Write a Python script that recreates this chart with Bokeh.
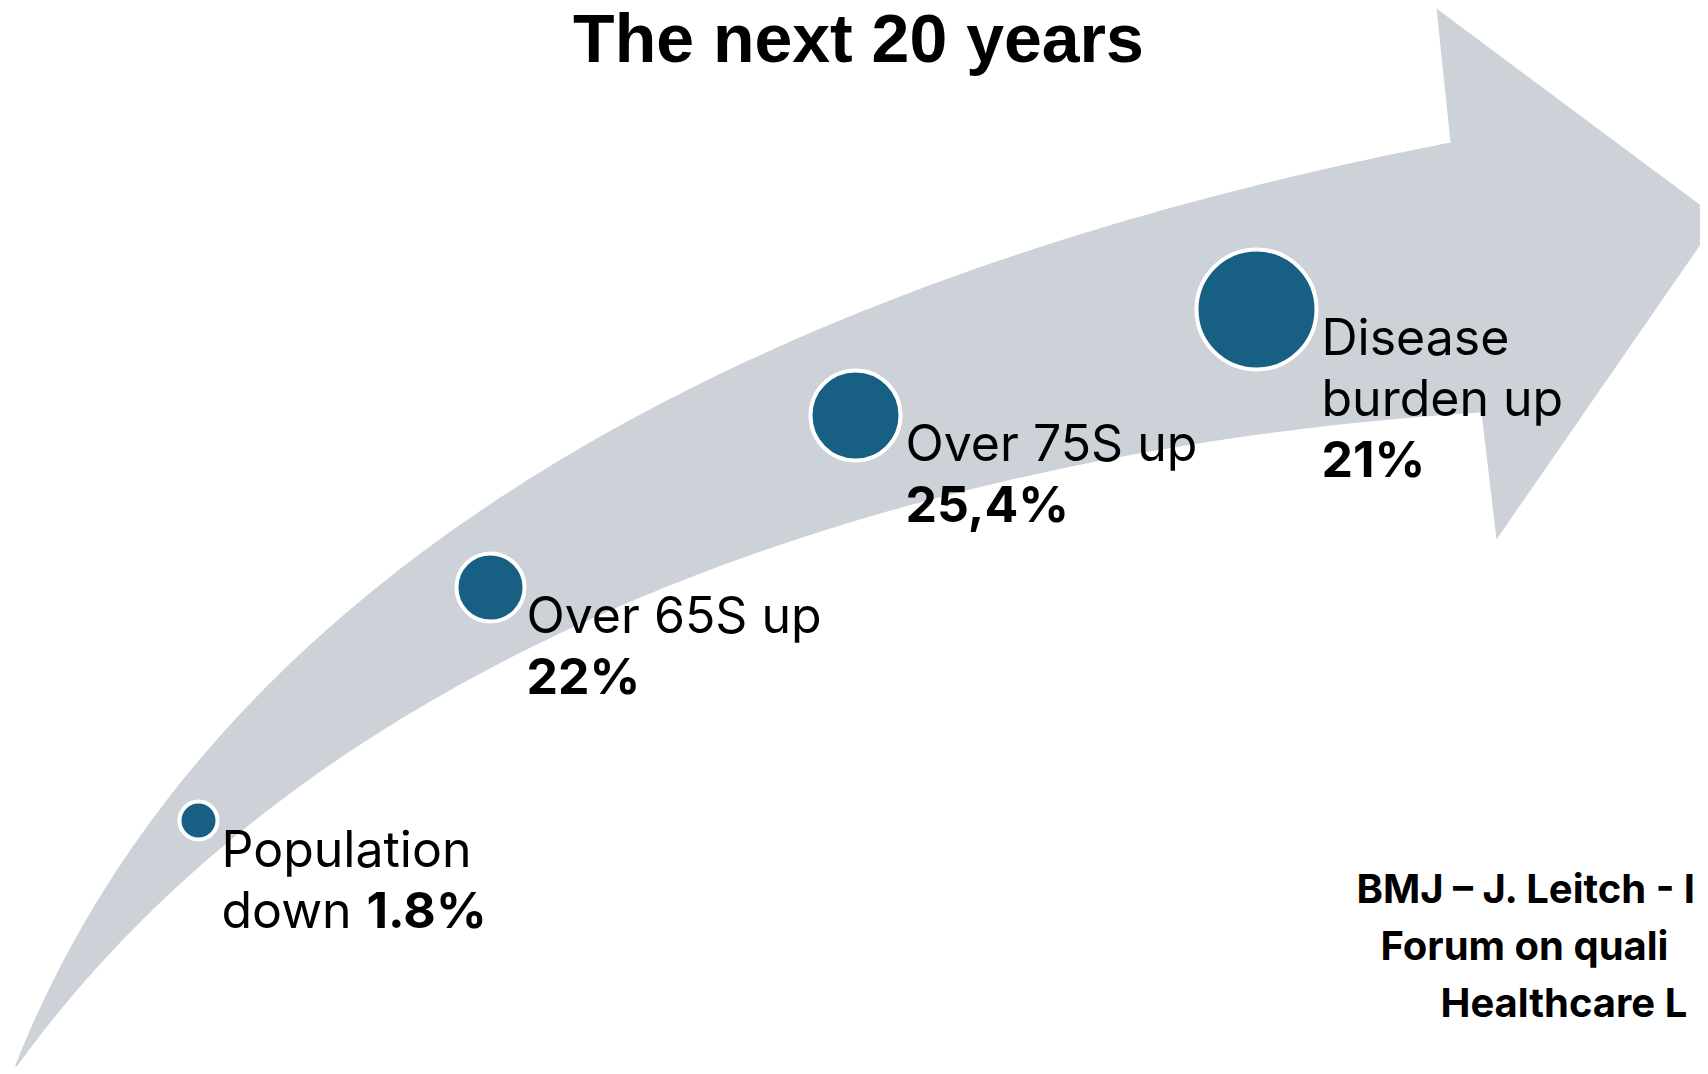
import numpy as np
from bokeh.plotting import figure
from bokeh.models import Range1d
from bokeh.core.properties import value
from bokeh.embed import file_html
from bokeh.resources import INLINE

# ---------------- data ----------------
title_text = "The next 20 years"
categories = ["Population", "Over 65S", "Over 75S", "Disease burden"]
label_first = ["Population", "Over 65S up", "Over 75S up", "Disease"]
label_second = ["down ", "", "", "burden up"]
changes = ["1.8%", "22%", "25,4%", "21%"]
# the source note is cut by the right edge of the slide, as in the original
source_lines = ["BMJ \u2013 J. Leitch - I", "Forum on quali", "Healthcare L"]

# ---------------- layout (page pixels, y downwards) ----------------
circle_x = [198, 490, 855, 1256]
circle_y = [820, 587, 415, 309]
circle_r = [19, 34, 45, 60]

label_x = [221, 526, 905, 1321]
label_base = [867, 633, 461, 355]
line_gap = 61
inline_change_x = 366

outer_pts = [(12, 1072), (75, 940), (110, 880), (200, 755), (300, 653), (520, 482),
             (647, 414), (813, 333), (1000, 257), (1150, 212), (1450, 142)]
inner_pts = [(12, 1072), (125, 940), (200, 863), (300, 783), (520, 653), (737, 560),
             (917, 505), (1160, 446), (1481, 412)]
head_pts = [(1436, 8), (1718, 218), (1496, 539)]

ARROW = "#CDD2D9"
DOT = "#176083"
W, H = 1700, 1066
LABEL_FS, TITLE_FS, SRC_FS = 50, 68, 40
SHIFT = 0.37  # baseline correction as a fraction of font size


def bez(P, t):
    t = np.asarray(t)[:, None]
    return ((1 - t) ** 3) * P[0] + 3 * ((1 - t) ** 2) * t * P[1] + 3 * (1 - t) * t ** 2 * P[2] + t ** 3 * P[3]


def fit_bezier(pts, iters=25):
    Q = np.array(pts, float)
    d = np.r_[0, np.cumsum(np.hypot(*np.diff(Q, axis=0).T))]
    t = d / d[-1]
    P0, P3 = Q[0], Q[-1]
    tt = np.linspace(0, 1, 3001)
    P = None
    for _ in range(iters):
        b0 = (1 - t) ** 3
        b1 = 3 * (1 - t) ** 2 * t
        b2 = 3 * (1 - t) * t ** 2
        b3 = t ** 3
        A = np.c_[b1, b2]
        R = Q - np.outer(b0, P0) - np.outer(b3, P3)
        sol, *_ = np.linalg.lstsq(A, R, rcond=None)
        P = np.array([P0, sol[0], sol[1], P3])
        C = bez(P, tt)
        t = np.array([tt[np.argmin(((C - q) ** 2).sum(1))] for q in Q])
        t[0], t[-1] = 0.0, 1.0
    return bez(P, np.linspace(0, 1, 240))


p = figure(width=W, height=H, x_range=Range1d(0, W), y_range=Range1d(H, 0),
           output_backend="svg", toolbar_location=None,
           x_axis_location=None, y_axis_location=None, min_border=0,
           background_fill_color="white", border_fill_color="white")
p.outline_line_color = None
p.grid.visible = False

# arrow
outer = fit_bezier(outer_pts)
inner = fit_bezier(inner_pts)[::-1]
poly = np.vstack([outer, np.array(head_pts, float), inner])
p.patch(poly[:, 0], poly[:, 1], fill_color=ARROW, line_color=None)

# circles
p.circle(x=circle_x, y=circle_y, radius=circle_r, fill_color=DOT,
         line_color="white", line_width=4)

# labels
reg_x, reg_y, reg_t = [], [], []
bold_x, bold_y, bold_t = [], [], []
for i in range(len(categories)):
    reg_x.append(label_x[i]); reg_y.append(label_base[i]); reg_t.append(label_first[i])
    y2 = label_base[i] + line_gap
    if label_second[i]:
        reg_x.append(label_x[i]); reg_y.append(y2); reg_t.append(label_second[i])
    if label_second[i] == "down ":
        bold_x.append(inline_change_x); bold_y.append(y2); bold_t.append(changes[i])
    else:
        yb = y2 + line_gap if label_second[i] else y2
        bold_x.append(label_x[i]); bold_y.append(yb); bold_t.append(changes[i])

off = SHIFT * LABEL_FS
LABEL_FONT = value("Inter")
p.text(x=reg_x, y=[v - off for v in reg_y], text=reg_t, text_font=LABEL_FONT,
       text_font_size=value(f"{LABEL_FS}px"), text_color="black",
       text_baseline="alphabetic", text_align="left")
p.text(x=bold_x, y=[v - off for v in bold_y], text=bold_t, text_font=LABEL_FONT,
       text_font_size=value(f"{LABEL_FS}px"), text_font_style="bold", text_color="black",
       text_baseline="alphabetic", text_align="left")

# title
p.text(x=[858], y=[63 - SHIFT * TITLE_FS], text=[title_text], text_font=value("Liberation Sans"),
       text_font_size=value(f"{TITLE_FS}px"), text_font_style="bold", text_color="black",
       text_baseline="alphabetic", text_align="center")

# source note
src_x = [1356, 1380, 1440]
src_base = [903, 960, 1017]
p.text(x=src_x, y=[v - SHIFT * SRC_FS for v in src_base], text=source_lines, text_font=LABEL_FONT,
       text_font_size=value(f"{SRC_FS}px"), text_font_style="bold", text_color="black",
       text_baseline="alphabetic", text_align="left")

open("out.html", "w").write(file_html(p, INLINE))
